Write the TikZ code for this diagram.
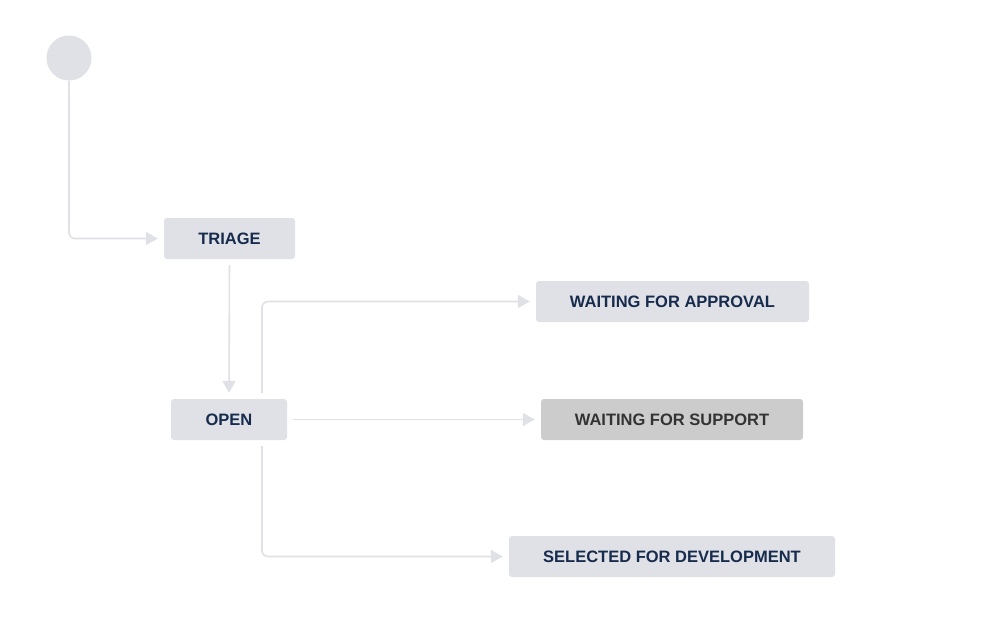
\documentclass[tikz,border=0pt]{standalone}
\usepackage{fontspec}
\setmainfont{Liberation Sans}
\usetikzlibrary{arrows.meta,positioning}
\definecolor{Line}{HTML}{DFE1E6}
\definecolor{Box}{HTML}{DFE1E6}
\definecolor{Hold}{HTML}{CCCCCC}
\definecolor{Label}{HTML}{172B4D}
\definecolor{HoldLabel}{HTML}{333333}

\begin{document}
\begin{tikzpicture}[
 x=1pt,y=-1pt,
 st/.style={fill=Box,rounded corners=3pt,minimum height=41pt,inner sep=0pt,text=Label,font=\fontsize{16.5}{18}\selectfont\bfseries},
 a/.style={-{Triangle[length=12pt,width=13pt]},line width=1.6pt,draw=Line,rounded corners=6pt,shorten >=6pt,shorten <=6pt}
]
\useasboundingbox (0,0) rectangle (999,637);
\node[circle,fill=Box,minimum size=45pt,inner sep=0pt] (start) at (69,58) {};
\node[st,minimum width=131pt] (triage) at (229.5,238.5) {TRIAGE};
\node[st,minimum width=116pt] (open) at (229,419.5) {OPEN};
\node[st,minimum width=273pt] (approval) at (672.5,301.5) {WAITING FOR APPROVAL};
\node[st,minimum width=262pt,fill=Hold,text=HoldLabel] (support) at (672,419.5) {WAITING FOR SUPPORT};
\node[st,minimum width=326pt] (selected) at (672,556.5) {SELECTED FOR DEVELOPMENT};
\draw[a,shorten <=0pt] (start.south) |- (triage.west);
\draw[a] (triage.south) -- (open.north);
\draw[a] ([xshift=33pt]open.north) |- (approval.west);
\draw[a] (open.east) -- (support.west);
\draw[a] ([xshift=33pt]open.south) |- (selected.west);
\end{tikzpicture}
\end{document}
